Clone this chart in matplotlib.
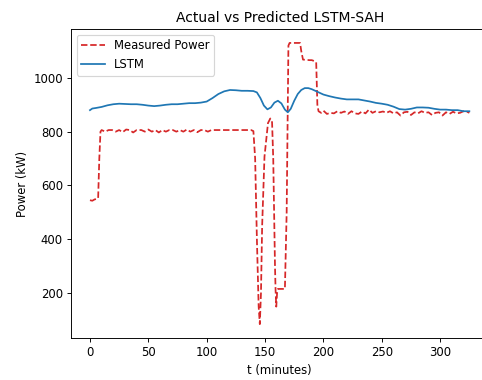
import matplotlib
matplotlib.use("Agg")
import matplotlib.pyplot as plt

# Measured power (kW) at sample times (minutes)
measured_t = [0, 2, 4, 6, 7, 8, 9, 10, 13, 16, 19, 22, 25, 28, 31, 34, 37, 40, 44, 47,
              50, 53, 56, 59, 62, 65, 68, 71, 74, 77, 80, 83, 86, 89, 92, 95, 98, 101,
              104, 110, 120, 130, 138, 140, 141.5, 143, 144.5, 145.5, 146.5, 147.5,
              149.5, 152.5, 154.5, 156, 157, 158.5, 159, 159.6, 160.3, 161, 167, 168.5,
              170, 171, 180, 181, 182.5, 188, 190, 192.5, 193.8, 194.8, 195.8, 198, 200,
              203, 206, 209, 212, 215, 218, 221, 224, 227, 230, 233, 236, 239, 242, 245,
              248, 251, 254, 257, 260, 263, 266, 269, 272, 275, 278, 281, 284, 287, 290,
              293, 296, 299, 302, 305, 308, 311, 314, 317, 320, 323, 325]
measured_kw = [545, 543, 548, 550, 552, 700, 800, 806, 800, 806, 806, 800, 806, 798, 808,
               806, 797, 806, 806, 800, 808, 800, 806, 797, 806, 800, 806, 806, 800, 806,
               800, 808, 800, 806, 798, 806, 806, 800, 806, 806, 806, 806, 806, 802, 700,
               400, 150, 84, 200, 450, 707, 832, 849, 835, 700, 300, 211, 149, 200, 215,
               215, 500, 1120, 1130, 1130, 1100, 1068, 1066, 1066, 1062, 1058, 900, 876,
               870, 878, 866, 870, 868, 876, 870, 875, 866, 876, 868, 866, 875, 868, 882,
               870, 876, 872, 875, 870, 876, 868, 872, 860, 872, 874, 862, 872, 868, 876,
               870, 872, 862, 870, 872, 860, 872, 866, 874, 868, 870, 876, 874, 870]

# LSTM prediction (kW)
lstm_t = [0, 2, 5, 10, 15, 20, 25, 30, 35, 40, 45, 50, 55, 60, 65, 70, 75, 80, 85, 90,
          95, 100, 105, 110, 115, 120, 125, 130, 135, 140, 143, 146, 149, 152, 155, 158,
          161, 164, 167, 169.5, 172, 175, 178, 181, 184, 187, 190, 195, 200, 205, 210,
          215, 220, 225, 230, 235, 240, 245, 250, 255, 260, 265, 270, 275, 280, 285, 290,
          295, 300, 305, 310, 315, 320, 325]
lstm_kw = [880, 886, 888, 892, 898, 902, 904, 903, 902, 902, 900, 897, 895, 897, 900, 902,
           902, 904, 906, 906, 908, 912, 925, 940, 950, 955, 954, 952, 952, 951, 946, 925,
           897, 883, 890, 908, 915, 905, 882, 872, 885, 915, 940, 955, 962, 962, 958, 948,
           938, 932, 927, 923, 920, 920, 920, 916, 912, 907, 904, 900, 893, 884, 882, 885,
           890, 890, 889, 885, 882, 882, 880, 880, 876, 876]

DPI = 83.5
fig = plt.figure(figsize=(483 / DPI, 380 / DPI), dpi=DPI)
ax = fig.add_axes([0.147, 0.110, 0.864, 0.814])

ax.plot(measured_t, measured_kw, "--", color="tab:red", label="Measured Power")
ax.plot(lstm_t, lstm_kw, "-", color="tab:blue", label="LSTM")

ax.set_title("Actual vs Predicted LSTM-SAH")
ax.set_xlabel("t (minutes)")
ax.set_ylabel("Power (kW)")
ax.set_xticks([0, 50, 100, 150, 200, 250, 300])
ax.set_yticks([200, 400, 600, 800, 1000])
ax.legend(loc="upper left")

fig.savefig("out.png", dpi=DPI)
